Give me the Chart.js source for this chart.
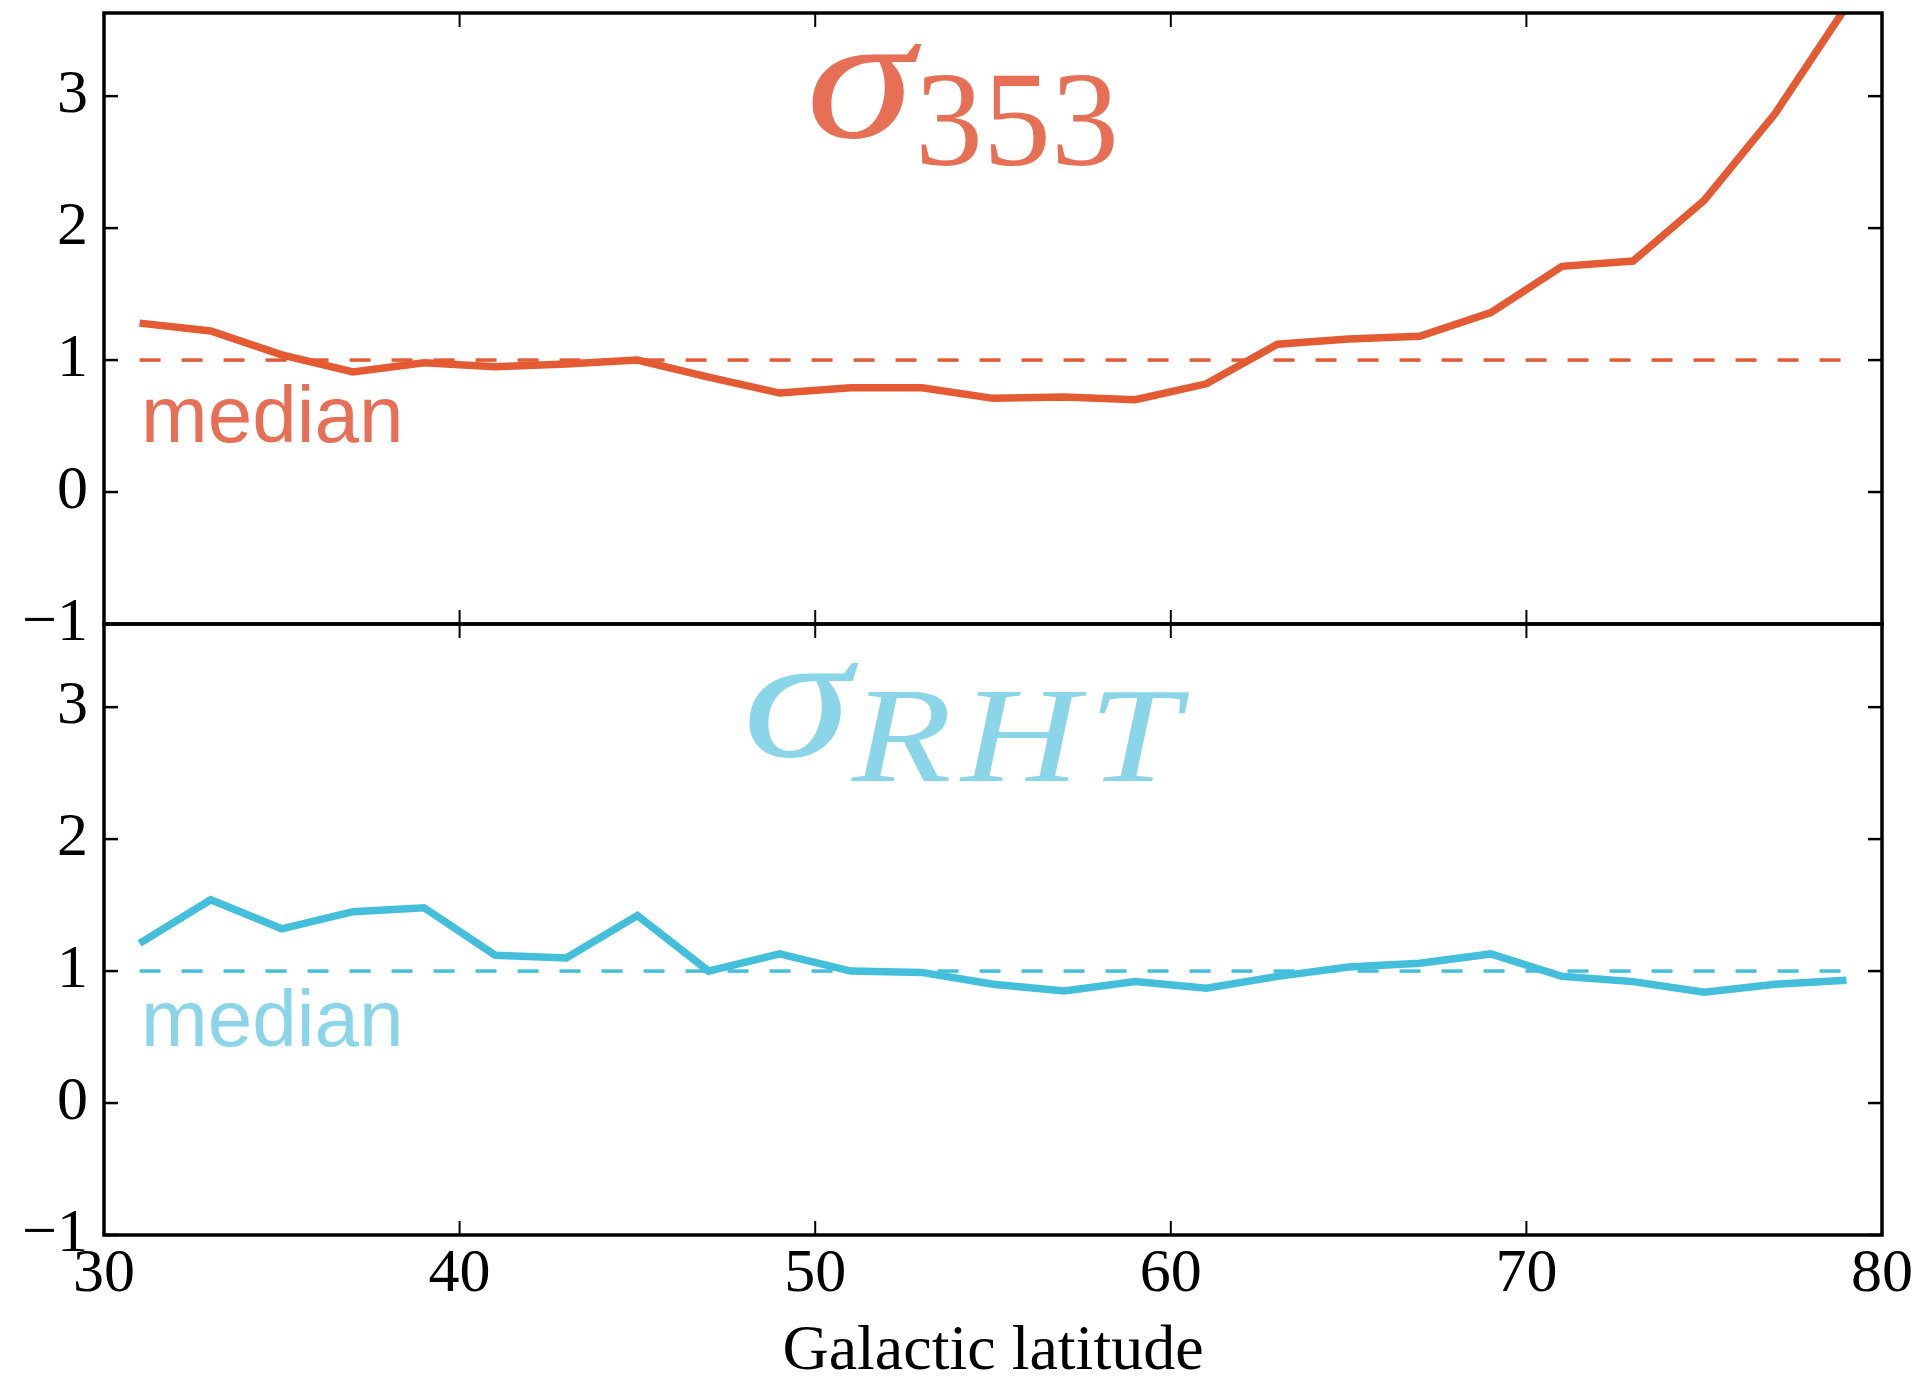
<!DOCTYPE html>
<html>
<head>
<meta charset="utf-8">
<script src="https://cdn.jsdelivr.net/npm/chart.js@4.4.0/dist/chart.umd.min.js"></script>
<style>
	html, body { margin: 0; padding: 0; background: #fff; overflow: hidden; }
	#wrap { position: relative; width: 1920px; height: 1378px; }
	canvas { position: absolute; left: 0; }
	#topChart { top: 0; }
	#bottomChart { top: 600px; }
</style>
</head>
<body>
<div id="wrap">
	<canvas id="topChart" width="1920" height="700"></canvas>
	<canvas id="bottomChart" width="1920" height="800"></canvas>
</div>
<script>
const latitudes = [31, 33, 35, 37, 39, 41, 43, 45, 47, 49, 51, 53, 55, 57, 59, 61, 63, 65, 67, 69, 71, 73, 75, 77, 79];
const sigma353 = [1.28, 1.22, 1.04, 0.91, 0.98, 0.95, 0.97, 1.00, 0.87, 0.75, 0.79, 0.79, 0.71, 0.72, 0.70, 0.82, 1.12, 1.16, 1.18, 1.36, 1.71, 1.75, 2.21, 2.87, 3.68];
const sigmaRHT = [1.21, 1.54, 1.32, 1.45, 1.48, 1.12, 1.10, 1.42, 1.00, 1.13, 1.00, 0.99, 0.90, 0.85, 0.92, 0.87, 0.96, 1.03, 1.06, 1.13, 0.96, 0.92, 0.84, 0.90, 0.93];
const medianLevel = 1;
const xTicks = [30, 40, 50, 60, 70, 80];
const yTicks = [-1, 0, 1, 2, 3];
const xLabel = "Galactic latitude";

const serif = '"Liberation Serif", "Times New Roman", serif';

// frame + inward ticks, like the matplotlib axes
const frameAndTicks = {
	id: "frameAndTicks",
	afterDatasetsDraw(chart) {
		const { ctx, chartArea: a, scales } = chart;
		ctx.save();
		ctx.strokeStyle = "#000";
		const seg = (x1, y1, x2, y2) => {
			ctx.beginPath();
			ctx.moveTo(x1, y1);
			ctx.lineTo(x2, y2);
			ctx.stroke();
		};
		ctx.lineWidth = 2;
		for (const v of xTicks) {
			const x = scales.x.getPixelForValue(v);
			seg(x, a.top, x, a.top + 14);
			seg(x, a.bottom, x, a.bottom - 14);
		}
		ctx.lineWidth = 2.5;
		for (const v of yTicks) {
			const y = scales.y.getPixelForValue(v);
			seg(a.left, y, a.left + 14, y);
			seg(a.right, y, a.right - 14, y);
		}
		ctx.lineWidth = 3.5;
		ctx.strokeRect(a.left, a.top, a.right - a.left, a.bottom - a.top);
		ctx.restore();
	},
};

// sigma title and "median" note inside each panel
const panelLabels = {
	id: "panelLabels",
	afterDraw(chart, args, opts) {
		const { ctx, chartArea: a } = chart;
		ctx.save();
		ctx.fillStyle = opts.color;
		ctx.textBaseline = "alphabetic";
		ctx.textAlign = "left";
		// glyphs stretched a little so they look closer to the TeX ones
		ctx.save();
		ctx.translate(opts.symbolX, a.top + opts.symbolBase);
		ctx.scale(1.22, 1);
		ctx.font = "italic 180px " + serif;
		ctx.fillText("\u03c3", 0, 0);
		ctx.restore();
		ctx.save();
		ctx.translate(opts.subX, a.top + opts.subBase);
		ctx.scale(opts.subStretch, 1);
		ctx.font = (opts.subItalic ? "italic " : "") + "136px " + serif;
		ctx.letterSpacing = opts.subSpacing;
		ctx.fillText(opts.sub, 0, 0);
		ctx.restore();
		ctx.font = '80px "Liberation Sans", Arial, sans-serif';
		ctx.fillText("median", 141, a.top + opts.medianBase);
		ctx.restore();
	},
};

function makePanel(canvasId, values, lineColor, labels, bottom) {
	const points = latitudes.map((x, i) => ({ x: x, y: values[i] }));
	const median = [
		{ x: latitudes[0], y: medianLevel },
		{ x: latitudes[latitudes.length - 1], y: medianLevel },
	];
	return new Chart(document.getElementById(canvasId), {
		type: "line",
		data: {
			datasets: [
				{
					data: points,
					borderColor: lineColor,
					borderWidth: 7.5,
					pointRadius: 0,
					tension: 0,
				},
				{
					data: median,
					borderColor: lineColor,
					borderWidth: 3.5,
					borderDash: [21, 21],
					pointRadius: 0,
				},
			],
		},
		options: {
			responsive: false,
			animation: false,
			events: [],
			layout: {
				padding: { left: 0, right: 38, top: bottom ? 24 : 13, bottom: bottom ? 0 : 76 },
			},
			plugins: {
				legend: { display: false },
				tooltip: { enabled: false },
				panelLabels: labels,
			},
			scales: {
				x: {
					type: "linear",
					min: 30,
					max: 80,
					grid: { display: false, drawTicks: false },
					border: { display: false },
					ticks: {
						display: bottom,
						stepSize: 10,
						padding: 3,
						color: "#000",
						font: { family: serif, size: 62 },
					},
					title: {
						display: bottom,
						text: xLabel,
						color: "#000",
						font: { family: serif, size: 64, lineHeight: 1.2 },
						padding: { top: 0, bottom: 9 },
					},
					afterFit: (scale) => {
						scale.height = bottom ? 165 : 0;
						scale.paddingLeft = 0;
						scale.paddingRight = 0;
					},
				},
				y: {
					min: -1,
					max: 3.63,
					grid: { display: false, drawTicks: false },
					border: { display: false },
					ticks: {
						stepSize: 1,
						includeBounds: false,
						padding: 16,
						color: "#000",
						font: { family: serif, size: 62 },
						callback: (v) => (v < 0 ? "\u2212" + Math.abs(v) : String(v)),
					},
					afterFit: (scale) => {
						scale.width = 104;
						scale.paddingTop = 0;
						scale.paddingBottom = 0;
					},
				},
			},
		},
		plugins: [frameAndTicks, panelLabels],
	});
}

makePanel("topChart", sigma353, "#e35a33", {
	color: "#e76f55",
	sub: "353",
	subItalic: false,
	subSpacing: "0px",
	subStretch: 1,
	symbolX: 806,
	symbolBase: 124,
	subX: 915,
	subBase: 152,
	medianBase: 429,
}, false);

makePanel("bottomChart", sigmaRHT, "#43bfdc", {
	color: "#8ad6e8",
	sub: "RHT",
	subItalic: true,
	subSpacing: "8px",
	subStretch: 1.2,
	symbolX: 743,
	symbolBase: 132,
	subX: 852,
	subBase: 157,
	medianBase: 422,
}, true);
</script>
</body>
</html>
